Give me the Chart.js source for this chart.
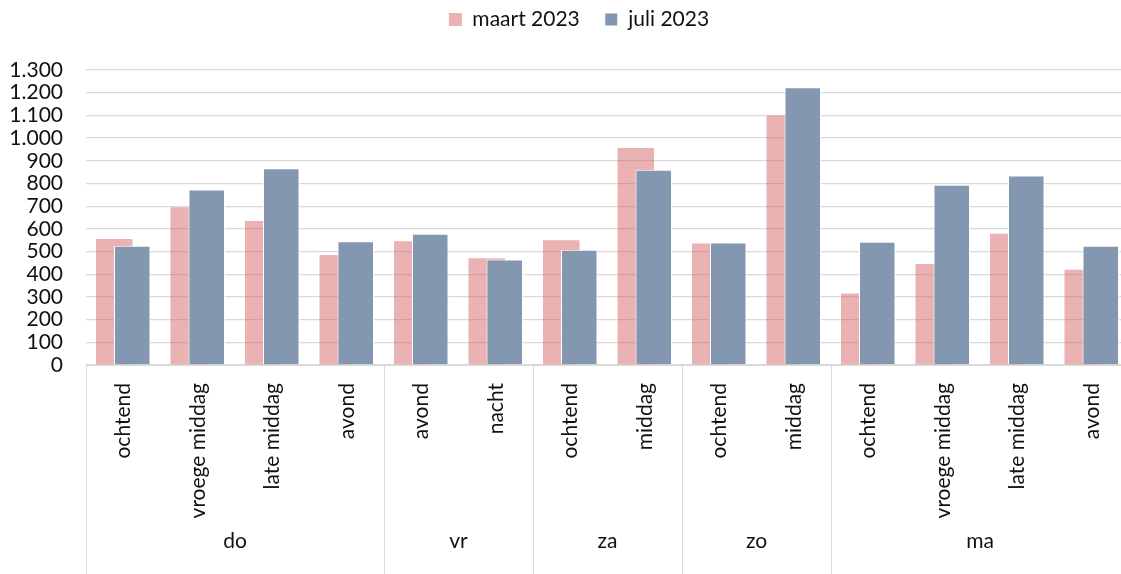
<!DOCTYPE html>
<html>
<head>
<meta charset="utf-8">
<script src="https://cdn.jsdelivr.net/npm/chart.js@4.4.1/dist/chart.umd.min.js"></script>
<style>
  html, body { margin: 0; padding: 0; background: #ffffff; overflow: hidden; }
  #wrap { width: 1121px; height: 574px; overflow: hidden; position: relative; }
  canvas { display: block; }
</style>
</head>
<body>
<div id="wrap"><canvas id="chart" width="1135" height="574"></canvas></div>
<script>
// ---- data ----
const dayGroups = ['do', 'vr', 'za', 'zo', 'ma'];
const dayGroupSizes = [4, 2, 2, 2, 4];
const periods = ['ochtend', 'vroege middag', 'late middag', 'avond',
                 'avond', 'nacht',
                 'ochtend', 'middag',
                 'ochtend', 'middag',
                 'ochtend', 'vroege middag', 'late middag', 'avond'];
const maart2023 = [555, 695, 635, 485, 545, 470, 550, 956, 535, 1100, 315, 445, 578, 420];
const juli2023  = [525, 773, 867, 545, 578, 465, 508, 860, 540, 1224, 543, 794, 835, 526];
const seriesLabels = ['maart 2023', 'juli 2023'];
const yMin = 0, yMax = 1300, yStep = 100;

// ---- styles ----
const FONT = 'Lato';
const TEXT = '#111111';
const GRID = '#d9d9d9';
const PINK = 'rgba(214, 102, 102, 0.5)';
const BLUE = '#8497B0';

function fmtThousands(v) {
  return String(v).replace(/\B(?=(\d{3})+(?!\d))/g, '.');
}

// draws the second-level (day) axis using the x scale
const groupAxisPlugin = {
  id: 'groupAxis',
  afterDraw(chart) {
    const xs = chart.scales.x;
    const ctx = chart.ctx;
    const step = xs.getPixelForValue(1) - xs.getPixelForValue(0);
    const top = chart.chartArea.bottom;
    const bottom = chart.height;
    ctx.save();
    ctx.strokeStyle = GRID;
    ctx.lineWidth = 1;
    ctx.font = '21px ' + FONT;
    ctx.fillStyle = TEXT;
    ctx.textAlign = 'center';
    ctx.textBaseline = 'middle';
    let idx = 0;
    const vline = (x) => {
      const px = Math.round(x) + 0.5;
      ctx.beginPath();
      ctx.moveTo(px, top);
      ctx.lineTo(px, bottom);
      ctx.stroke();
    };
    dayGroups.forEach((g, gi) => {
      const left = xs.getPixelForValue(idx) - step / 2;
      const right = xs.getPixelForValue(idx + dayGroupSizes[gi] - 1) + step / 2;
      vline(left);
      if (gi === dayGroups.length - 1) vline(right);
      ctx.fillText(g, (left + right) / 2, bottom - 33);
      idx += dayGroupSizes[gi];
    });
    ctx.restore();
  }
};

// nudges the legend box to sit where it does in the reference
const legendShiftPlugin = {
  id: 'legendShift',
  afterLayout(chart) {
    const l = chart.legend;
    if (!l) return;
    const dx = 12, dy = -16;
    l.left += dx; l.right += dx;
    l.top += dy; l.bottom += dy;
  }
};

Chart.defaults.font.family = FONT;
Chart.defaults.color = TEXT;

new Chart(document.getElementById('chart'), {
  type: 'bar',
  data: {
    labels: periods,
    datasets: [
      { label: seriesLabels[0], data: maart2023, backgroundColor: PINK, borderWidth: 0,
        xAxisID: 'x', order: 0 },
      { label: seriesLabels[1], data: juli2023, backgroundColor: BLUE, borderColor: '#ffffff',
        borderWidth: 1, xAxisID: 'x2', order: -1 }
    ]
  },
  options: {
    responsive: false,
    animation: false,
    events: [],
    categoryPercentage: 0.483,
    barPercentage: 2.03,
    layout: { padding: { left: 0, right: 1, top: 0, bottom: 0 } },
    plugins: {
      legend: {
        position: 'top',
        labels: {
          boxWidth: 13, boxHeight: 13, padding: 25,
          font: { size: 21, family: FONT }, color: TEXT,
          sort: (a, b) => a.datasetIndex - b.datasetIndex
        }
      },
      title: { display: true, text: '', weight: 500, padding: 0, font: { size: 14, lineHeight: 1 } },
      tooltip: { enabled: false }
    },
    scales: {
      x: {
        type: 'category',
        offset: true,
        grid: { display: false, drawTicks: false },
        border: { display: true, color: GRID, width: 1 },
        ticks: {
          autoSkip: false, minRotation: 90, maxRotation: 90, padding: 18,
          font: { size: 21, family: FONT }, color: TEXT
        },
        afterFit(scale) { scale.height = 209; }
      },
      x2: {
        type: 'category',
        offset: true,
        display: false,
        grid: { display: false }
      },
      y: {
        min: yMin, max: yMax,
        grid: { color: GRID, lineWidth: 1.3, drawTicks: false },
        border: { display: false },
        ticks: {
          stepSize: yStep, padding: 23, autoSkip: false,
          font: { size: 21, family: FONT }, color: TEXT,
          callback: (v) => fmtThousands(v)
        },
        afterFit(scale) { scale.width = 86; }
      }
    }
  },
  plugins: [groupAxisPlugin, legendShiftPlugin]
});
</script>
</body>
</html>
